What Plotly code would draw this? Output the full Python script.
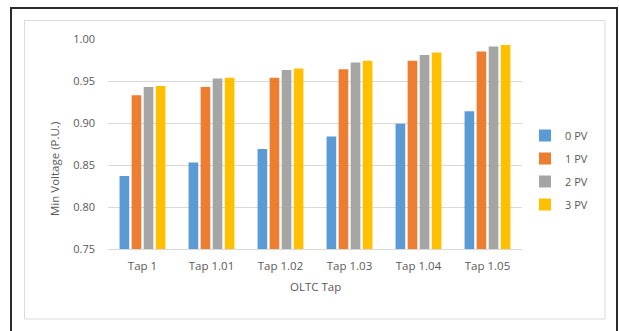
import plotly.graph_objects as go

# OLTC tap settings and minimum feeder voltage (p.u.) per PV scenario
taps = ["Tap 1", "Tap 1.01", "Tap 1.02", "Tap 1.03", "Tap 1.04", "Tap 1.05"]
pv0 = [0.837, 0.853, 0.869, 0.884, 0.899, 0.914]
pv1 = [0.933, 0.943, 0.954, 0.964, 0.974, 0.985]
pv2 = [0.943, 0.953, 0.963, 0.972, 0.981, 0.991]
pv3 = [0.944, 0.954, 0.965, 0.974, 0.984, 0.993]

series = [("0 PV", pv0, "#5B9BD5"), ("1 PV", pv1, "#ED7D31"),
          ("2 PV", pv2, "#A5A5A5"), ("3 PV", pv3, "#FFC000")]

W, H = 619, 331
L, R, T, B = 108, 522, 39, 249   # plot area in pixels
TXT = "#595959"
FONT = "Open Sans"

fig = go.Figure()
for i, (name, vals, col) in enumerate(series):
    fig.add_trace(go.Bar(x=taps, y=vals, name=name, marker_color=col,
                         marker_line_width=0, legendgroup=str(i)))


def px(x):
    return (x - L) / (R - L)


def py(y):
    return (B - y) / (B - T)


shapes = [
    # outer frame
    dict(type="rect", xref="paper", yref="paper", x0=px(11), x1=px(617),
         y0=py(345), y1=py(8), line=dict(color="#2b2b2b", width=2), layer="below"),
    # chart-area border
    dict(type="rect", xref="paper", yref="paper", x0=px(24.5), x1=px(605),
         y0=py(319), y1=py(20.5), line=dict(color="#D9D9D9", width=1), layer="below"),
]

annotations = [
    dict(text="OLTC Tap", xref="paper", yref="paper", x=0.5, y=py(286),
         xanchor="center", yanchor="middle", showarrow=False,
         font=dict(family=FONT, size=11.5, color=TXT)),
    dict(text="Min Voltage (P.U.)", xref="paper", yref="paper", x=px(54), y=py(169),
         xanchor="center", yanchor="middle", showarrow=False, textangle=-90,
         font=dict(family=FONT, size=11.5, color=TXT)),
]

fig.update_layout(
    width=W, height=H,
    margin=dict(l=L, r=W - R, t=T, b=H - B, pad=0),
    paper_bgcolor="white", plot_bgcolor="white",
    font=dict(family=FONT, size=11, color=TXT),
    barmode="group", bargap=0.30, bargroupgap=0.2,
    showlegend=True,
    legend=dict(x=px(525), y=py(121), xanchor="left", yanchor="top",
                traceorder="grouped", tracegroupgap=4, itemwidth=30,
                font=dict(family=FONT, size=11, color=TXT),
                bgcolor="rgba(0,0,0,0)"),
    shapes=shapes, annotations=annotations,
)
fig.update_yaxes(range=[0.75, 1.0], dtick=0.05, tickformat=".2f",
                 showgrid=True, gridcolor="#D9D9D9", gridwidth=1,
                 zeroline=False, showline=False, ticks="",
                 ticklabelstandoff=12, tickfont=dict(size=11, color=TXT))
fig.update_xaxes(showgrid=False, showline=True, linecolor="#D9D9D9", linewidth=1,
                 ticks="", ticklabelstandoff=6, tickfont=dict(size=11.5, color=TXT))

fig.write_html("out.html")
